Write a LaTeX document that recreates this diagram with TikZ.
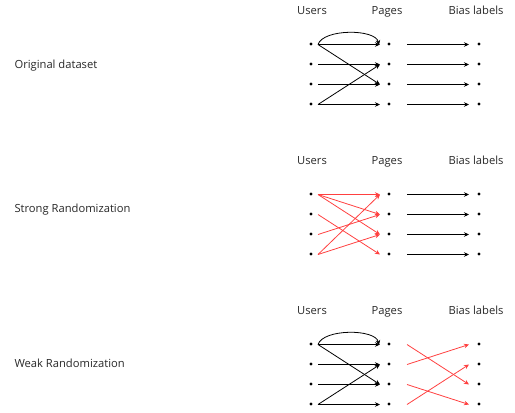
\documentclass[tikz,border=0pt]{standalone}
\usepackage{fontspec}
\setmainfont{Open Sans}
\usetikzlibrary{arrows.meta}
\definecolor{redline}{RGB}{255,64,64}
\definecolor{txt}{RGB}{40,40,40}
\begin{document}
\begin{tikzpicture}[x=1pt,y=-1pt,
  dot/.style={circle,fill=black,inner sep=0pt,minimum size=3.4pt},
  lbl/.style={font=\fontsize{11.2}{13}\selectfont,text=txt,anchor=base},
  arr/.style={-{Stealth[length=5pt,width=4.5pt]},line width=0.8pt},
  rd/.style={draw=redline}]
\useasboundingbox (0,0) rectangle (515,413);
\foreach \p/\oy in {1/0,2/150,3/300}{
  \node[lbl] (us\p) at (312,14+\oy) {Users};
  \node[lbl] (pg\p) at (387,14+\oy) {Pages};
  \node[lbl] (bl\p) at (476,14+\oy) {Bias labels};
  \foreach \i in {1,...,4}{
    \node[dot] (u\p\i) at (311,24+20*\i+\oy) {};
    \node[dot] (g\p\i) at (389,24+20*\i+\oy) {};
    \node[dot] (b\p\i) at (479,24+20*\i+\oy) {};
    \coordinate (uo\p\i) at (318,24.5+20*\i+\oy);
    \coordinate (gi\p\i) at (380,24.5+20*\i+\oy);
    \coordinate (go\p\i) at (407,24.5+20*\i+\oy);
    \coordinate (bi\p\i) at (469,24.5+20*\i+\oy);
  }
  \coordinate (ae\p) at (379,45+\oy);
}
\node[lbl,anchor=west] (t1) at (11,66) {Original dataset};
\node[lbl,anchor=west] (t2) at (11,210) {Strong Randomization};
\node[lbl,anchor=west] (t3) at (11,363) {Weak Randomization};
% panel 1 and 3: original user-page edges
\foreach \p in {1,3}{
  \draw[arr] (uo\p1) -- (gi\p1);
  \draw[arr] (uo\p1) -- (gi\p3);
  \draw[arr] (uo\p2) -- (gi\p2);
  \draw[arr] (uo\p3) -- (gi\p3);
  \draw[arr] (uo\p4) -- (gi\p4);
  \draw[arr] (uo\p4) -- (gi\p2);
  \draw[arr] (uo\p1) to[out=72,in=102,looseness=0.7] (ae\p);
}
% panel 1 and 2: page-bias edges
\foreach \p in {1,2}{
  \foreach \i in {1,...,4}{
    \draw[arr] (go\p\i) -- (bi\p\i);
  }
}
% panel 2: strong randomization
\draw[arr,rd] (uo21) -- (gi21);
\draw[arr,rd] (uo21) -- (gi22);
\draw[arr,rd] (uo21) -- (gi23);
\draw[arr,rd] (uo22) -- (gi24);
\draw[arr,rd] (uo23) -- (gi22);
\draw[arr,rd] (uo24) -- (gi21);
\draw[arr,rd] (uo24) -- (gi23);
% panel 3: weak randomization
\draw[arr,rd] (go31) -- (bi33);
\draw[arr,rd] (go32) -- (bi31);
\draw[arr,rd] (go33) -- (bi34);
\draw[arr,rd] (go34) -- (bi32);
\end{tikzpicture}
\end{document}
